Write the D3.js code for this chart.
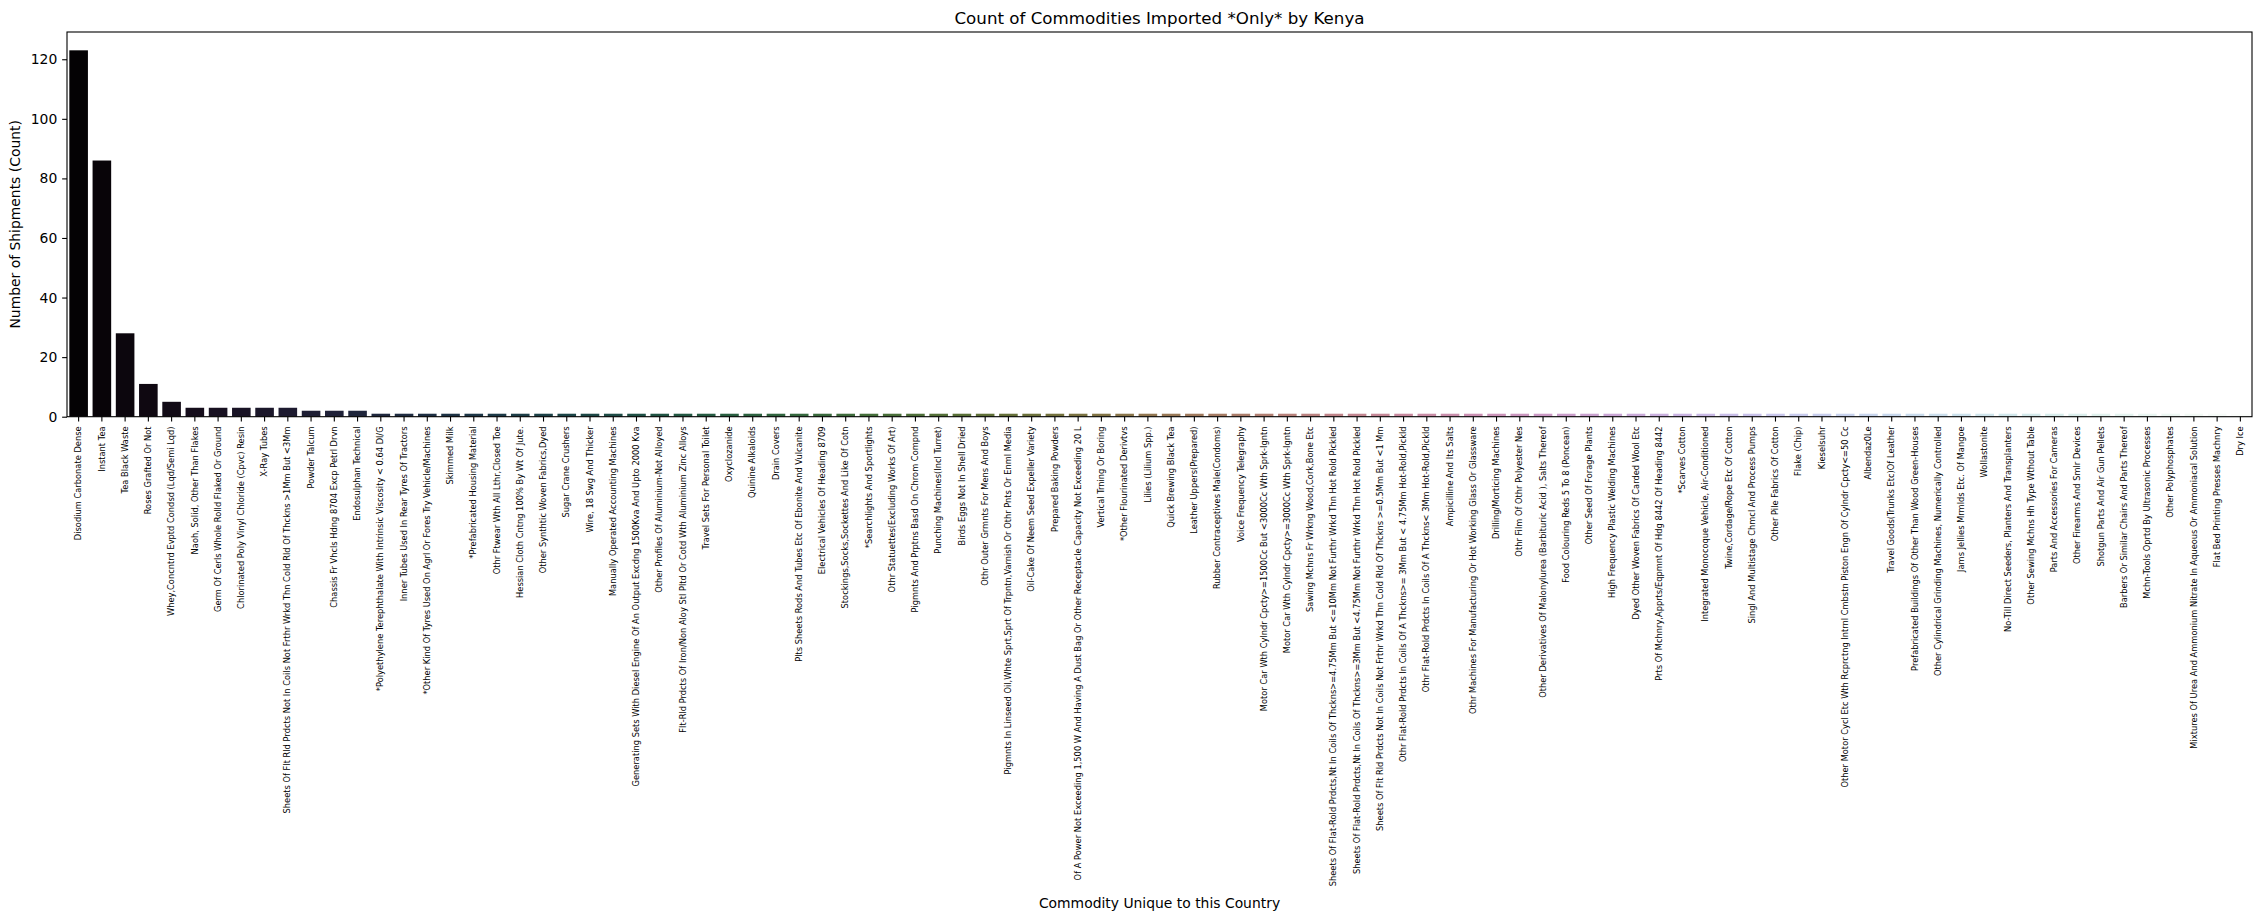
<!DOCTYPE html>
<html><head><meta charset="utf-8">
<script src="https://cdn.jsdelivr.net/npm/d3@7"></script>
<style>body{margin:0;background:#fff}svg{display:block}text{font-family:"DejaVu Sans",sans-serif}</style>
</head><body><svg id="c" width="2261" height="922"></svg>
<script>
const categories = [
"Disodium Carbonate Dense","Instant Tea","Tea Black Waste","Roses Grafted Or Not","Whey,Concntrd Evptd Condsd (Lqd/Semi Lqd)","Naoh, Solid, Other Than Flakes","Germ Of Cerls Whole Rolld Flaked Or Ground","Chlorinated Poly Vinyl Chloride (Cpvc) Resin","X-Ray Tubes","Sheets Of Flt Rld Prdcts Not In Coils Not Frthr Wrkd Thn Cold Rld Of Thckns >1Mm But <3Mm","Powder Talcum","Chassis Fr Vhcls Hdng 8704 Excp Petrl Drvn",
"Endosulphan Technical","*Polyethylene Terephthalate With Intrinsic Viscosity < 0.64 Dl/G","Inner Tubes Used In Rear Tyres Of Tractors","*Other Kind Of Tyres Used On Agrl Or Fores Try Vehicle/Machines","Skimmed Milk","*Prefabricated Housing Material","Othr Ftwear Wth All Lthr,Closed Toe","Hessian Cloth Cntng 100% By Wt Of Jute.","Other Synthtic Woven Fabrics,Dyed","Sugar Crane Crushers","Wire, 18 Swg And Thicker","Manually Operated Accounting Machines",
"Generating Sets With Diesel Engine Of An Output Excdng 1500Kva And Upto 2000 Kva","Other Profiles Of Aluminium-Not Alloyed","Flt-Rld Prdcts Of Iron/Non Aloy Stl Pltd Or Cotd Wth Aluminium Zinc Alloys","Travel Sets For Personal Toilet","Oxyclozanide","Quinine Alkaloids","Drain Covers","Plts Sheets Rods And Tubes Etc Of Ebonite And Vulcanite","Electrical Vehicles Of Heading 8709","Stockings,Socks,Sockettes And Like Of Cotn","*Searchlights And Sportlights","Othr Statuettes(Excluding Works Of Art)",
"Pigmnts And Prptns Basd On Chrom Compnd","Punching Machines(Incl Turret)","Birds Eggs Not In Shell Dried","Othr Outer Grmnts For Mens And Boys","Pigmnts In Linseed Oil,Whte Sprt,Sprt Of Trpntn,Varnish Or Othr Pnts Or Enml Media","Oil-Cake Of Neem Seed Expeller Variety","Prepared Baking Powders","Of A Power Not Exceeding 1,500 W And Having A Dust Bag Or Other Receptacle Capacity Not Exceeding 20 L","Vertical Trning Or Boring","*Other Flourinated Derivtvs","Lilies (Lilium Spp.)","Quick Brewing Black Tea",
"Leather Uppers(Prepared)","Rubber Contraceptives Male(Condoms)","Voice Frequency Telegraphy","Motor Car Wth Cylndr Cpcty>=1500Cc But <3000Cc Wth Sprk-Igntn","Motor Car Wth Cylndr Cpcty>=3000Cc Wth Sprk-Igntn","Sawing Mchns Fr Wrkng Wood,Cork,Bone Etc","Sheets Of Flat-Rold Prdcts,Nt In Coils Of Thckns>=4.75Mm But <=10Mm Not Furthr Wrkd Thn Hot Rold Pickled","Sheets Of Flat-Rold Prdcts,Nt In Coils Of Thckns>=3Mm But <4.75Mm Not Furthr Wrkd Thn Hot Rold Pickled","Sheets Of Flt Rld Prdcts Not In Coils Not Frthr Wrkd Thn Cold Rld Of Thckns >=0.5Mm But <1 Mm","Othr Flat-Rold Prdcts In Coils Of A Thckns>= 3Mm But < 4.75Mm Hot-Rold,Pickld","Othr Flat-Rold Prdcts In Coils Of A Thckns< 3Mm Hot-Rold,Pickld","Ampicilline And Its Salts",
"Othr Machines For Manufacturing Or Hot Working Glass Or Glassware","Drilling/Morticing Machines","Othr Film Of Othr Polyester Nes","Other Derivatives Of Malonylurea (Barbituric Acid ), Salts Thereof","Food Colouring Reds 5 To 8 (Poncean)","Other Seed Of Forage Plants","High Frequency Plastic Welding Machines","Dyed Other Woven Fabrics Of Carded Wool Etc","Prts Of Mchnry,Apprts/Eqpmnt Of Hdg 8442 Of Heading 8442","*Scarves Cotton","Integrated Monocoque Vehicle, Air-Conditioned","Twine,Cordage/Rope Etc Of Cotton",
"Singl And Multistage Chmcl And Process Pumps","Other Pile Fabrics Of Cotton","Flake (Chip)","Kieselsuhr","Other Motor Cycl Etc Wth Rcprctng Intrnl Cmbstn Piston Engn Of Cylndr Cpcty<=50 Cc","Albendaz0Le","Travel Goods(Trunks Etc)Of Leather","Prefabricated Buildings Of Other Than Wood Green-Houses","Other Cylindrical Grinding Machines, Numerically Controlled","Jams Jellies Mrmlds Etc. Of Mangoe","Wollastonite","No-Till Direct Seeders, Planters And Transplanters",
"Other Sewing Mchns Hh Type Wthout Table","Parts And Accessories For Cameras","Other Firearms And Smlr Devices","Shotgun Parts And Air Gun Pellets","Barbers Or Similar Chairs And Parts Thereof","Mchn-Tools Oprtd By Ultrasonic Processes","Other Polyphosphates","Mixtures Of Urea And Ammonium Nitrate In Aqueous Or Ammoniacal Solution","Flat Bed Printing Presses Machnry","Dry Ice"
];
const counts = [123,86,28,11,5,3,3,3,3,3,2,2,2,
1,1,1,1,1,1,1,1,1,1,1,
1,1,1,1,1,1,1,1,1,1,1,1,
1,1,1,1,1,1,1,1,1,1,1,1,
1,1,1,1,1,1,1,1,1,1,1,1,
1,1,1,1,1,1,1,1,1,1,1,1,
1,1,1,1,1,1,1,1,1,1,1,1,
1,1,1,1,1,1,1,1,1,1];
const yTicks = [0,20,40,60,80,100,120];
const title = "Count of Commodities Imported *Only* by Kenya";
const xLabel = "Commodity Unique to this Country";
const yLabel = "Number of Shipments (Count)";

// matplotlib cubehelix colormap (gamma=1, s=0.5, r=-1.5, h=1), seaborn-style sampling + 0.75 desaturation
function cubehelix(x){
  const a = x*(1-x)/2, phi = 2*Math.PI*(0.5/3 - 1.5*x);
  const c = (p0,p1)=>Math.max(0,Math.min(1, x + a*(p0*Math.cos(phi)+p1*Math.sin(phi))));
  return d3.rgb(255*c(-0.14861,1.78277), 255*c(-0.29227,-0.90649), 255*c(1.97294,0));
}
const n = categories.length;
const colors = categories.map((_,i)=>{
  const h = d3.hsl(cubehelix((i+1)/(n+1)));
  h.s *= 0.75;
  return h.formatHex();
});

const svg = d3.select("#c");
const L=67, R=2252, T=32, B=416.7;
const x = d3.scaleBand().domain(categories).range([L,R]).paddingInner(0.2).paddingOuter(0.1);
const y = d3.scaleLinear().domain([0, d3.max(counts)*1.05]).range([B,T]);

svg.append("g").selectAll("rect").data(categories).join("rect")
  .attr("x",d=>x(d)).attr("width",x.bandwidth())
  .attr("y",(d,i)=>y(counts[i])).attr("height",(d,i)=>B-y(counts[i]))
  .attr("fill",(d,i)=>colors[i]);

const yAxis = svg.append("g").attr("transform",`translate(${L},0)`)
  .call(d3.axisLeft(y).tickValues(yTicks).tickSize(4.86).tickPadding(4.86));
yAxis.select(".domain").remove();
yAxis.selectAll("text").style("font-size","13.9px").attr("fill","#000");
yAxis.selectAll("line").attr("stroke","#000").attr("stroke-width",1.1);

const xAxis = svg.append("g").attr("transform",`translate(0,${B})`)
  .call(d3.axisBottom(x).tickSize(4.86).tickPadding(0));
xAxis.select(".domain").remove();
xAxis.selectAll("line").attr("stroke","#000").attr("stroke-width",1.1);
xAxis.selectAll("text").style("font-size","8.3px").attr("fill","#000")
  .attr("text-anchor","end").attr("dy","0.32em")
  .attr("transform","translate(0,9.7) rotate(-90)").attr("x",0).attr("y",0);

svg.append("rect").attr("x",L).attr("y",T).attr("width",R-L).attr("height",B-T)
  .attr("fill","none").attr("stroke","#000").attr("stroke-width",1.1);

svg.append("text").attr("x",(L+R)/2).attr("y",T-8).attr("text-anchor","middle")
  .style("font-size","16.7px").text(title);
svg.append("text").attr("x",(L+R)/2).attr("y",908).attr("text-anchor","middle")
  .style("font-size","13.9px").text(xLabel);
svg.append("text").attr("transform",`translate(20,${(T+B)/2}) rotate(-90)`).attr("text-anchor","middle")
  .style("font-size","13.9px").text(yLabel);
</script></body></html>
